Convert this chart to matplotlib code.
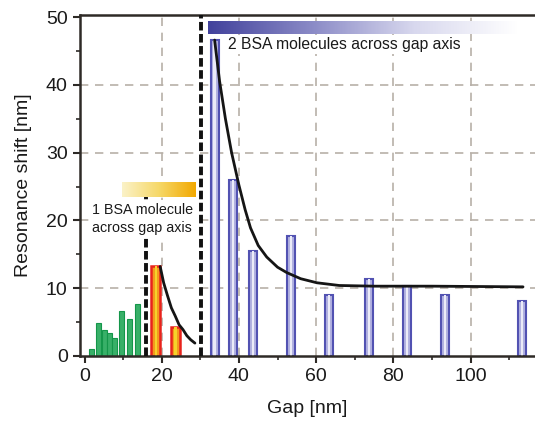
import numpy as np
import matplotlib.pyplot as plt
from matplotlib.colors import LinearSegmentedColormap
from matplotlib.ticker import MultipleLocator

plt.rcParams['font.family'] = ['Liberation Sans', 'DejaVu Sans']

# gap sizes [nm] and resonance shifts [nm]
gap_green = [1.9, 3.6, 5.1, 6.4, 7.8, 9.6, 11.7, 13.8]
shift_green = [1.1, 4.8, 3.9, 3.4, 2.7, 6.6, 5.5, 7.6]

gap_one = [18.5, 23.6]
shift_one = [13.3, 4.3]

gap_two = [33.7, 38.5, 43.7, 53.5, 63.3, 73.7, 83.5, 93.4, 113.3]
shift_two = [46.6, 26.0, 15.5, 17.7, 9.0, 11.3, 10.3, 9.0, 8.1]

# decay curves traced over the bars
fit1_x = [19.6, 20.5, 21.5, 22.5, 23.5, 24.5, 25.5, 26.5, 27.5, 28.6]
fit1_y = [13.2, 10.8, 8.9, 7.1, 5.9, 4.6, 3.9, 3.0, 2.4, 1.9]
fit2_x = [33.7, 35.0, 36.5, 38.1, 40.0, 41.6, 43.0, 45.0, 47.2, 50.0,
          52.4, 56.0, 60.2, 66.0, 75.0, 90.0, 113.6]
fit2_y = [46.6, 40.5, 35.0, 30.0, 25.2, 21.6, 18.9, 16.3, 14.6, 13.1,
          12.3, 11.4, 10.8, 10.4, 10.3, 10.3, 10.2]

fig = plt.figure(figsize=(5.35, 4.21), dpi=100)
ax = fig.add_axes([0.1486, 0.1544, 0.8514, 0.81])

grid_kw = dict(color='#b8b0a8', lw=1.2, ls=(0, (5, 4)), zorder=0)
for gx in [20, 40, 60, 80, 100]:
    ax.axvline(gx, **grid_kw)
for gy in [10, 20, 30, 40]:
    ax.axhline(gy, **grid_kw)

# bars
ax.bar(gap_green, shift_green, width=1.35, color='#38b068',
       edgecolor='#14964a', lw=0.8, zorder=2)
ax.bar(gap_one, shift_one, width=2.3, color='#f39a1e',
       edgecolor='#e8231c', lw=1.8, zorder=2)
ax.bar(gap_one, shift_one, width=0.7, color='#f6d22a', lw=0, zorder=2)
ax.bar(gap_two, shift_two, width=2.1, color='#b2b2e0',
       edgecolor='#5252b2', lw=1.5, zorder=2)
ax.bar(gap_two, shift_two, width=0.6, color='#ebebf8', lw=0, zorder=2)

ax.plot(fit1_x, fit1_y, color='#151515', lw=2.0, zorder=4,
        solid_capstyle='round')
ax.plot(fit2_x, fit2_y, color='#151515', lw=2.0, zorder=4,
        solid_capstyle='round')

# regime boundaries
dash_kw = dict(color='#111111', lw=2.8, ls=(0, (2.2, 0.9)), zorder=3)
ax.plot([15.9, 15.9], [0, 24], **dash_kw)
ax.plot([30.2, 30.2], [0, 50.3], **dash_kw)

# gradient headers
grad = np.linspace(0, 1, 256).reshape(1, -1)
cm_blue = LinearSegmentedColormap.from_list(
    'bl', ['#42429c', '#8a8ac6', '#d8d8ee', '#ffffff'])
cm_yel = LinearSegmentedColormap.from_list(
    'yl', ['#fbf2c8', '#f6d868', '#f2a800'])
ax.imshow(grad, cmap=cm_blue, aspect='auto',
          extent=[31.9, 112, 47.5, 49.4], zorder=5)
ax.imshow(grad, cmap=cm_yel, aspect='auto',
          extent=[9.6, 28.6, 23.4, 25.6], zorder=5)

ax.text(37.2, 45.9, '2 BSA molecules across gap axis', fontsize=11.3,
        ha='left', va='center', color='#1a1a1a', zorder=6,
        bbox=dict(facecolor='white', edgecolor='none', pad=1.5))
ax.text(1.9, 20.2, '1 BSA molecule\nacross gap axis', fontsize=10.3,
        ha='left', va='center', color='#1a1a1a', linespacing=1.35,
        zorder=6, bbox=dict(facecolor='white', edgecolor='none', pad=2))

ax.set_xlim(-1.3, 116.7)
ax.set_ylim(0, 50.3)
ax.xaxis.set_major_locator(MultipleLocator(20))
ax.xaxis.set_minor_locator(MultipleLocator(10))
ax.yaxis.set_major_locator(MultipleLocator(10))
ax.yaxis.set_minor_locator(MultipleLocator(5))
ax.set_xticks([0, 20, 40, 60, 80, 100])

for side in ['left', 'bottom', 'top']:
    ax.spines[side].set_color('#2e2a26')
    ax.spines[side].set_linewidth(1.8)
ax.spines['right'].set_visible(False)
ax.tick_params(which='major', direction='out', length=5, width=1.5,
               colors='#2e2a26', labelsize=14, labelcolor='#1a1a1a')
ax.tick_params(which='minor', direction='out', length=3, width=1.2,
               colors='#2e2a26')
ax.tick_params(top=False, which='both')

ax.set_xlabel('Gap [nm]', fontsize=14, color='#1a1a1a', labelpad=11)
ax.set_ylabel('Resonance shift [nm]', fontsize=14, color='#1a1a1a',
              labelpad=10)

fig.savefig('out.png', dpi=100)
